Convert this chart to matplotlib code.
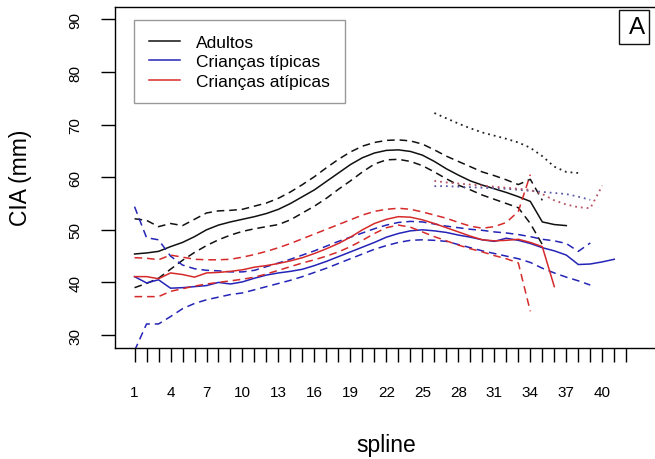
"""CIA (mm) along the spline for adults, typical and atypical children."""

import matplotlib

matplotlib.use("Agg")

import matplotlib.pyplot as plt
import numpy as np
from matplotlib.patches import Rectangle

# figure size in pixels (dpi 100)
W, H = 655, 460

spline_ticks = list(range(1, 43))
spline_labels = list(range(1, 41, 3))
cia_ticks = [30, 40, 50, 60, 70, 80, 90]

# adults: mean, confidence band and dotted curve
adult_start = 1
adult_mean = [45.4, 45.6, 45.9, 46.8, 47.6, 48.7, 50.0, 50.9, 51.5, 52.0,
              52.5, 53.1, 53.9, 55.0, 56.3, 57.6, 59.2, 60.8, 62.4, 63.7,
              64.6, 65.1, 65.2, 64.9, 64.2, 63.0, 61.6, 60.4, 59.3, 58.5,
              57.8, 57.1, 56.3, 55.4, 51.5, 51.0, 50.8]
adult_upper = [52.1, 51.8, 50.6, 51.2, 50.8, 52.0, 53.2, 53.6, 53.7, 53.9,
               54.5, 55.1, 56.0, 57.2, 58.6, 60.1, 61.8, 63.4, 64.8, 65.9,
               66.6, 67.0, 67.1, 66.9, 66.3, 65.2, 64.0, 63.0, 62.0, 61.0,
               60.3, 59.5, 58.6, 59.6, 55.6]
adult_lower = [39.0, 39.8, 40.8, 42.5, 44.2, 45.7, 47.0, 48.1, 49.0, 49.7,
               50.2, 50.6, 51.0, 51.9, 53.2, 54.5, 56.0, 57.7, 59.3, 61.0,
               62.5, 63.3, 63.4, 63.0, 62.2, 61.0, 59.7, 58.5, 57.6, 56.6,
               55.8, 55.0, 54.2, 51.2, 47.2]
adult_dot_start = 26
adult_dot = [72.2, 71.2, 70.2, 69.3, 68.5, 67.9, 67.3, 66.6, 65.6, 64.0,
             62.0, 61.0, 60.8]

# typical children
typ_start = 1
typ_mean = [41.1, 39.9, 40.5, 38.9, 39.0, 39.2, 39.4, 40.0, 39.7, 40.1,
            40.8, 41.4, 41.8, 42.1, 42.5, 43.2, 44.0, 44.9, 45.8, 46.7,
            47.6, 48.6, 49.3, 49.8, 50.0, 49.8, 49.5, 49.0, 48.6, 48.1,
            47.8, 48.4, 48.0, 47.4, 46.6, 46.0, 45.2, 43.4, 43.5, 43.9,
            44.4]
typ_upper = [54.4, 48.5, 48.1, 45.0, 43.3, 42.6, 42.3, 42.2, 42.0, 42.0,
             42.3, 43.0, 43.7, 44.4, 45.2, 46.0, 46.9, 47.8, 48.6, 49.4,
             50.2, 50.9, 51.4, 51.6, 51.5, 51.1, 50.7, 50.4, 50.1, 49.9,
             49.6, 49.4, 49.1, 48.7, 48.2, 47.9, 47.4, 45.9, 47.5]
typ_lower = [27.0, 32.1, 32.1, 33.5, 35.0, 36.0, 36.7, 37.2, 37.7, 38.0,
             38.6, 39.2, 39.8, 40.4, 41.1, 41.9, 42.7, 43.6, 44.5, 45.4,
             46.3, 47.0, 47.6, 48.0, 48.1, 48.0, 47.8, 47.2, 46.6, 46.0,
             45.5, 45.0, 44.5, 43.8, 42.7, 41.8, 41.0, 40.3, 39.5]
typ_dot_start = 26
typ_dot = [58.3, 58.3, 58.2, 58.1, 58.0, 57.9, 57.8, 57.6, 57.4, 57.2,
           57.0, 56.8, 56.3, 55.7]

# atypical children
atyp_start = 1
atyp_mean = [41.1, 41.1, 40.7, 41.8, 41.5, 41.0, 41.8, 41.9, 42.1, 42.4,
             42.9, 43.2, 43.6, 44.1, 44.7, 45.5, 46.4, 47.4, 48.6, 50.0,
             51.2, 52.0, 52.5, 52.4, 51.9, 51.2, 50.4, 49.6, 48.8, 48.1,
             47.9, 48.0, 48.2, 47.6, 46.8, 39.2]
atyp_upper = [44.7, 44.6, 44.3, 45.2, 44.8, 44.4, 44.3, 44.3, 44.4, 44.8,
              45.3, 45.9, 46.6, 47.4, 48.3, 49.2, 50.1, 51.0, 51.9, 52.8,
              53.5, 53.9, 54.1, 53.9, 53.4, 52.8, 52.2, 51.4, 50.7, 50.3,
              50.6, 51.4, 53.5, 60.5]
atyp_lower = [37.3, 37.3, 37.3, 38.3, 38.8, 39.3, 39.7, 40.0, 40.3, 40.6,
              41.0, 41.6, 42.3, 43.0, 43.7, 44.3, 45.0, 45.8, 46.8, 48.0,
              49.3, 50.4, 50.9, 50.5, 49.6, 48.7, 47.9, 47.1, 46.4, 45.8,
              45.1, 44.5, 43.7, 34.5]
atyp_dot_start = 26
atyp_dot = [59.3, 59.0, 58.8, 58.6, 58.4, 58.2, 58.0, 57.8, 57.6, 56.8,
            55.6, 54.8, 54.3, 54.1, 58.4]

BLACK = "#111111"
BLUE = "#2424b8"
RED = "#d62a2a"
DASH = (0, (5.0, 3.2))
DOT = (0, (1.0, 2.2))


def px_x(x):
    return x / W


def px_y(y):
    return 1 - y / H


def spline_x(start, values):
    return np.arange(start, start + len(values))


def draw_group(ax, start, mean, upper, lower, dot_start, dot, color, dot_color):
    ax.plot(spline_x(start, mean), mean, color=color, lw=1.1)
    ax.plot(spline_x(start, upper), upper, color=color, lw=1.1, linestyle=DASH)
    ax.plot(spline_x(start, lower), lower, color=color, lw=1.1, linestyle=DASH)
    ax.plot(spline_x(dot_start, dot), dot, color=dot_color, lw=1.3, linestyle=DOT)


def main() -> None:
    plt.rcParams["font.family"] = ["Liberation Sans", "DejaVu Sans"]

    fig = plt.figure(figsize=(W / 100, H / 100), dpi=100)
    left, right, top, bottom = 115, 662, 8, 349
    ax = fig.add_axes([px_x(left), px_y(bottom),
                       (right - left) / W, (bottom - top) / H])

    draw_group(ax, adult_start, adult_mean, adult_upper, adult_lower,
               adult_dot_start, adult_dot, BLACK, "#222222")
    draw_group(ax, typ_start, typ_mean, typ_upper, typ_lower,
               typ_dot_start, typ_dot, BLUE, "#5a5aa8")
    draw_group(ax, atyp_start, atyp_mean, atyp_upper, atyp_lower,
               atyp_dot_start, atyp_dot, RED, "#b85060")

    ax.set_xlim(-0.63, 44.98)
    ax.set_ylim(27.53, 92.36)

    ax.set_xticks(spline_ticks)
    ax.set_xticklabels([str(t) if t in spline_labels else "" for t in spline_ticks])
    ax.set_yticks(cia_ticks)
    ax.set_yticklabels([str(t) for t in cia_ticks], rotation=90, va="center")
    ax.tick_params(axis="x", length=10, width=1.0, pad=17, labelsize=11)
    ax.tick_params(axis="y", length=10, width=1.0, pad=13.5, labelsize=11)
    for spine in ax.spines.values():
        spine.set_linewidth(1.0)

    fig.text(px_x(21), px_y(178), "CIA (mm)", rotation=90,
             ha="center", va="center", fontsize=16.5)
    fig.text(px_x(386), px_y(446), "spline", ha="center", va="center",
             fontsize=16.5)

    handles = [
        plt.Line2D([], [], color=BLACK, lw=1.1),
        plt.Line2D([], [], color=BLUE, lw=1.1),
        plt.Line2D([], [], color=RED, lw=1.1),
    ]
    leg = ax.legend(handles, ["Adultos", "Crianças típicas", "Crianças atípicas"],
                    loc="upper left", bbox_to_anchor=(px_x(134.3), px_y(20.7)),
                    bbox_transform=fig.transFigure, borderaxespad=0,
                    fontsize=12.5, handlelength=1.8, handletextpad=0.9,
                    labelspacing=0.25, borderpad=0.85, fancybox=False,
                    framealpha=1, edgecolor="#999999")
    leg.get_frame().set_linewidth(1.0)

    # panel letter in the top-right corner
    fig.patches.append(Rectangle((px_x(619), px_y(45)), 30 / W, 34 / H,
                                 transform=fig.transFigure, fill=False,
                                 edgecolor="#111111", lw=1.0))
    fig.text(px_x(637), px_y(28), "A", ha="center", va="center", fontsize=17.5)

    fig.savefig("out.png", dpi=100)
    plt.close(fig)


if __name__ == "__main__":
    main()
